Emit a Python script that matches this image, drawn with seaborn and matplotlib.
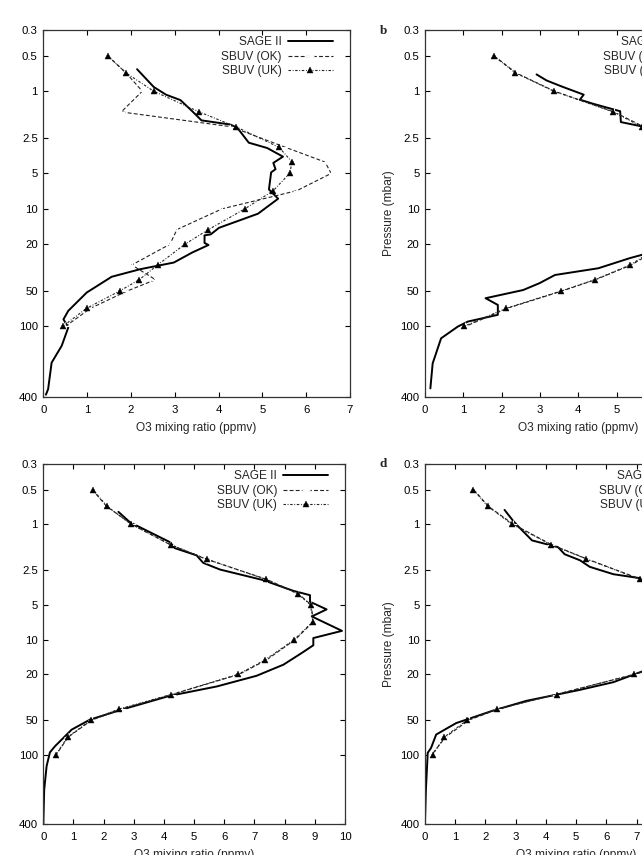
import numpy as np
import pandas as pd
import matplotlib
matplotlib.use("Agg")
import matplotlib.pyplot as plt
import seaborn as sns

# ---------------- data ----------------
sbuv_p = [0.5, 0.7, 1, 1.5, 2, 3, 4, 5, 7, 10, 15, 20, 30, 40, 50, 70, 100]

# panel a
a_sage_x = [2.14, 2.52, 2.80, 3.13, 3.40, 3.61, 4.27, 4.43, 4.69, 5.11, 5.47, 5.25, 5.30, 5.20,
            5.15, 5.36, 4.90, 4.01, 3.82, 3.68, 3.68, 3.77, 3.40, 2.98, 2.21, 1.56, 0.99, 0.57,
            0.46, 0.57, 0.42, 0.19, 0.11, 0.06]
a_sage_p = [0.65, 0.92, 1.07, 1.19, 1.48, 1.77, 1.92, 2.05, 2.74, 3.04, 3.6, 4.07, 4.6, 4.9,
            6.84, 8.2, 11.0, 14.5, 16.5, 16.8, 19.5, 20.3, 23.5, 28.6, 32.6, 37.8, 51.5, 73.6,
            87, 102, 146, 203, 341, 380]
a_ok = [1.47, 1.89, 2.26, 1.78, 4.27, 5.53, 6.43, 6.57, 5.79, 4.08, 3.05, 2.89, 2.02, 2.56, 1.91, 1.08, 0.50]
a_uk = [1.47, 1.89, 2.52, 3.56, 4.39, 5.38, 5.68, 5.62, 5.25, 4.60, 3.77, 3.23, 2.61, 2.19, 1.74, 0.99, 0.44]

# panel b
b_sage_x = [2.91, 3.17, 3.56, 4.14, 4.04, 4.39, 5.09, 5.11, 5.65, 6.4, 7.0, 7.4, 7.7, 7.8, 7.5,
            7.0, 6.3, 5.66, 5.35, 4.52, 3.39, 2.99, 2.56, 1.58, 1.90, 1.90, 1.12, 0.86, 0.42,
            0.20, 0.14]
b_sage_p = [0.72, 0.81, 0.91, 1.07, 1.18, 1.28, 1.48, 1.83, 1.99, 2.5, 3.0, 4.0, 5.0, 7.0, 10,
            14, 19, 24.6, 26.2, 32, 36.5, 42.8, 49, 57.5, 65.6, 79.6, 90.8, 100, 126, 206, 336]
b_ok = [1.80, 2.38, 3.38, 4.93, 5.70, 6.7, 7.3, 7.6, 7.7, 7.4, 6.9, 6.3, 5.38, 4.45, 3.57, 2.15, 1.05]
b_uk = [1.79, 2.36, 3.36, 4.91, 5.65, 6.6, 7.2, 7.5, 7.6, 7.3, 6.8, 6.2, 5.35, 4.43, 3.54, 2.12, 1.01]

# panel c
c_sage_x = [2.49, 2.87, 4.20, 4.36, 5.08, 5.30, 5.86, 7.29, 8.29, 8.84, 8.84, 9.39, 8.90, 9.90,
            8.95, 8.95, 8.56, 7.96, 7.07, 5.75, 4.20, 2.60, 1.55, 0.94, 0.39, 0.22, 0.11, 0.03, 0.0]
c_sage_p = [0.78, 0.96, 1.43, 1.61, 1.86, 2.16, 2.47, 3.05, 3.78, 4.12, 4.7, 5.47, 6.3, 8.4,
            9.7, 11.2, 13.1, 16.5, 20.6, 25.5, 30.7, 40.5, 49.4, 60.4, 84, 95, 125, 200, 400]
c_ok = [1.62, 2.10, 2.93, 4.20, 5.38, 7.40, 8.45, 8.88, 8.95, 8.35, 7.40, 6.50, 4.25, 2.60, 1.60, 0.83, 0.42]
c_uk = [1.64, 2.12, 2.91, 4.22, 5.41, 7.37, 8.43, 8.86, 8.93, 8.32, 7.35, 6.46, 4.23, 2.51, 1.57, 0.81, 0.41]

# panel d
d_sage_x = [2.63, 2.91, 3.11, 3.54, 4.40, 4.62, 5.12, 5.45, 6.23, 7.17, 7.9, 8.7, 9.3, 9.4, 9.1,
            8.2, 7.18, 6.23, 5.12, 3.35, 2.25, 1.03, 0.37, 0.20, 0.09, 0.03, 0.0]
d_sage_p = [0.75, 0.93, 1.06, 1.38, 1.58, 1.82, 2.05, 2.34, 2.71, 2.95, 3.5, 5, 7, 10, 14, 17,
            18.9, 23.4, 27.3, 34, 41.3, 53, 66.6, 87, 96, 200, 380]
d_ok = [1.61, 2.10, 2.92, 4.18, 5.36, 7.14, 8.2, 8.8, 9.3, 9.2, 8.4, 6.95, 4.30, 2.42, 1.45, 0.68, 0.22]
d_uk = [1.60, 2.08, 2.88, 4.16, 5.34, 7.11, 8.1, 8.7, 9.2, 9.1, 8.3, 6.91, 4.35, 2.39, 1.39, 0.64, 0.25]

xmax = {"a": 7, "b": 8, "c": 10, "d": 10}
ytick_vals = [0.3, 0.5, 1, 2.5, 5, 10, 20, 50, 100, 400]
ytick_labels = ["0.3", "0.5", "1", "2.5", "5", "10", "20", "50", "100", "400"]
legend_labels = ["SAGE II", "SBUV (OK)", "SBUV (UK)"]

# ---------------- style ----------------
sns.set_style("ticks")
plt.rcParams["font.family"] = ["Liberation Sans", "DejaVu Sans"]
plt.rcParams["axes.linewidth"] = 0.9

W, H = 642, 855
fig = plt.figure(figsize=(W / 100, H / 100), dpi=100)

def frac(left, top, right, bottom):
    return [left / W, 1 - bottom / H, (right - left) / W, (bottom - top) / H]

boxes = {
    "a": frac(43.3, 29.7, 350.0, 397.3),
    "b": frac(425.0, 29.7, 731.7, 397.3),
    "c": frac(43.3, 464.0, 345.0, 824.3),
    "d": frac(425.0, 464.0, 727.4, 824.3),
}

panels = {
    "a": (a_sage_x, a_sage_p, a_ok, a_uk),
    "b": (b_sage_x, b_sage_p, b_ok, b_uk),
    "c": (c_sage_x, c_sage_p, c_ok, c_uk),
    "d": (d_sage_x, d_sage_p, d_ok, d_uk),
}

for key, (sx, sp, ok, uk) in panels.items():
    ax = fig.add_axes(boxes[key])
    sage_df = pd.DataFrame({"x": sx, "p": sp})
    sbuv_df = pd.DataFrame({"p": sbuv_p, "ok": ok, "uk": uk})
    sns.lineplot(data=sage_df, x="x", y="p", sort=False, estimator=None, ax=ax,
                 color="black", lw=1.4, label=legend_labels[0])
    sns.lineplot(data=sbuv_df, x="ok", y="p", sort=False, estimator=None, ax=ax,
                 color="#222222", lw=0.8, linestyle=(0, (3.5, 2)), marker="+",
                 markersize=6, markeredgewidth=0.8, label=legend_labels[1])
    sns.lineplot(data=sbuv_df, x="uk", y="p", sort=False, estimator=None, ax=ax,
                 color="#222222", lw=0.8, linestyle=(0, (2.2, 1.5, 0.8, 1.5)), marker="^",
                 markersize=4.2, markeredgewidth=0.3, markerfacecolor="black",
                 markeredgecolor="black", label=legend_labels[2])
    ax.set_yscale("log")
    ax.set_ylim(400, 0.3)
    ax.set_xlim(0, xmax[key])
    ax.set_yticks(ytick_vals)
    ax.set_yticklabels(ytick_labels)
    ax.yaxis.set_minor_locator(matplotlib.ticker.NullLocator())
    ax.set_xticks(range(0, xmax[key] + 1))
    ax.tick_params(which="major", direction="in", length=3.8, width=0.8,
                   top=True, right=True, labelsize=8.2, pad=4, colors="black")
    ax.tick_params(axis="x", pad=5.5)
    for s in ax.spines.values():
        s.set_visible(True)
        s.set_color("#333333")
    ax.set_xlabel("O3 mixing ratio (ppmv)", fontsize=8.6, labelpad=5)
    if key in ("b", "d"):
        ax.set_ylabel("Pressure (mbar)", fontsize=8.6, labelpad=4)
    else:
        ax.set_ylabel("")
    leg = ax.legend(loc="upper right", bbox_to_anchor=(0.945, 0.982), frameon=False,
                    markerfirst=False, fontsize=8.6, handlelength=3.8, handletextpad=0.5,
                    labelspacing=0.2, borderpad=0, borderaxespad=0, numpoints=1)

fig.text(383 / W, 1 - 31 / H, "b", family="Liberation Serif", weight="bold",
         fontsize=9.5, ha="center", va="center")
fig.text(383 / W, 1 - 464 / H, "d", family="Liberation Serif", weight="bold",
         fontsize=9.5, ha="center", va="center")

fig.savefig("out.png", dpi=100, facecolor="white")
